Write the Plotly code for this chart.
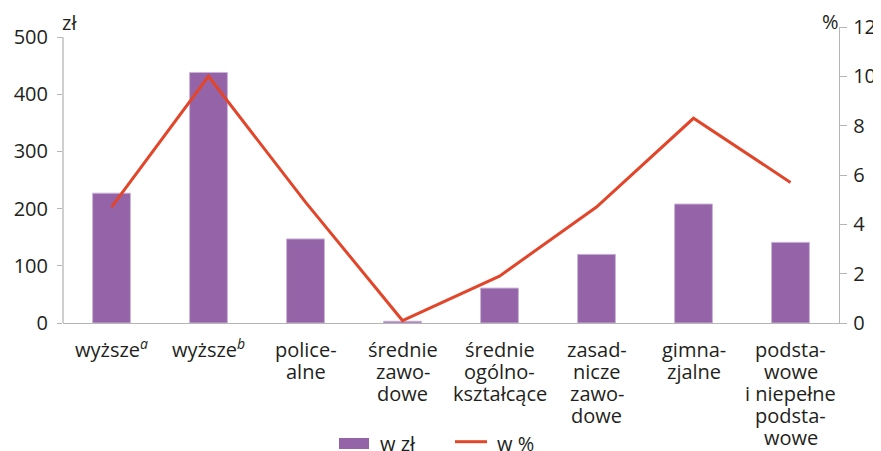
import plotly.graph_objects as go

categories = [
    "wyższe<sup><i>a</i></sup>",
    "wyższe<sup><i>b</i></sup>",
    "police-<br>alne",
    "średnie<br>zawo-<br>dowe",
    "średnie<br>ogólno-<br>kształcące",
    "zasad-<br>nicze<br>zawo-<br>dowe",
    "gimna-<br>zjalne",
    "podsta-<br>wowe<br>i niepełne<br>podsta-<br>wowe",
]
values_zl = [227, 438, 147, 3, 61, 120, 208, 141]
values_pct = [4.7, 10.0, 4.9, 0.1, 1.9, 4.7, 8.3, 5.7]
left_ticks = [0, 100, 200, 300, 400, 500]
right_ticks = [0, 2, 4, 6, 8, 10, 12]
series_names = ["w zł", "w %"]
unit_left = "zł"
unit_right = "%"

FONT = "Open Sans"
TXT = "#231f20"
AX = "#b5b5b5"
PURPLE = "#9463a8"
RED = "#e2462a"

OFF = 8  # page body margin
W, H = 881 - OFF, 451 - OFF
# plot area in page pixels: x 63..839, y 27..323
ML = 63 - OFF
MT = 27 - OFF
MR = W - (839 - OFF)
MB = H - (323 - OFF)
PW = W - ML - MR
PH = H - MT - MB


def baseline_shift(baseline_px):
    # yshift for an annotation anchored (bottom) at the plot bottom edge
    return -(baseline_px + 7 - 323)


idx = list(range(len(categories)))

fig = go.Figure()
fig.add_trace(go.Bar(
    x=idx, y=values_zl, name=series_names[0],
    marker=dict(color=PURPLE, line=dict(color="#c9b3d6", width=1)),
    yaxis="y", showlegend=False,
))
fig.add_trace(go.Scatter(
    x=idx, y=values_pct, name=series_names[1], mode="lines",
    line=dict(color=RED, width=3), yaxis="y2", showlegend=False,
))

annotations = []
# category labels, one annotation per line for tight line spacing
LS = 22
for i, lab in enumerate(categories):
    for j, line in enumerate(lab.split("<br>")):
        annotations.append(dict(
            x=i, xref="x", y=0, yref="paper", yanchor="bottom",
            yshift=baseline_shift(358 + j * LS),
            text=line, showarrow=False,
            font=dict(family=FONT, size=20, color=TXT),
            xanchor="center",
        ))

# units
annotations.append(dict(x=0, xref="paper", xanchor="left", xshift=-3,
                        y=1, yref="paper", yanchor="middle", yshift=4.5,
                        text=unit_left, showarrow=False,
                        font=dict(family=FONT, size=20, color=TXT)))
annotations.append(dict(x=1, xref="paper", xanchor="right", xshift=2,
                        y=1, yref="paper", yanchor="middle", yshift=6,
                        text=unit_right, showarrow=False,
                        font=dict(family=FONT, size=20, color=TXT)))


def px2x(px):
    return (px - 63) / PW


def py2y(py):
    return (323 - py) / PH


# manual legend
shapes = [
    dict(type="rect", xref="paper", yref="paper",
         x0=px2x(339), x1=px2x(369), y0=py2y(449), y1=py2y(438),
         fillcolor=PURPLE, line=dict(width=0)),
    dict(type="line", xref="paper", yref="paper",
         x0=px2x(455), x1=px2x(487), y0=py2y(441.7), y1=py2y(441.7),
         line=dict(color=RED, width=3)),
    # left axis line up to 500
    dict(type="line", xref="paper", yref="y",
         x0=0, x1=0, y0=0, y1=500, line=dict(color=AX, width=1.3)),
]
annotations.append(dict(x=px2x(378), xref="paper", xanchor="left",
                        y=0, yref="paper", yanchor="bottom",
                        yshift=baseline_shift(452),
                        text=series_names[0], showarrow=False,
                        font=dict(family=FONT, size=20, color=TXT)))
annotations.append(dict(x=px2x(495), xref="paper", xanchor="left",
                        y=0, yref="paper", yanchor="bottom",
                        yshift=baseline_shift(452),
                        text=series_names[1], showarrow=False,
                        font=dict(family=FONT, size=20, color=TXT)))

fig.update_layout(
    width=W, height=H,
    margin=dict(l=ML, r=MR, t=MT, b=MB, pad=0, autoexpand=False),
    paper_bgcolor="white", plot_bgcolor="white",
    font=dict(family=FONT, size=20, color=TXT),
    bargap=0.61,
    xaxis=dict(
        type="linear", range=[-0.5, len(categories) - 0.5],
        showticklabels=False, ticks="", showgrid=False, zeroline=False,
        showline=True, linecolor=AX, linewidth=1.3, automargin=False,
    ),
    yaxis=dict(
        range=[0, 500 * PH / 286], tickvals=left_ticks,
        ticks="outside", ticklen=5, tickcolor=AX, tickwidth=1,
        showgrid=False, zeroline=False, showline=False, automargin=False,
        tickfont=dict(family=FONT, size=20, color=TXT),
        ticklabelstandoff=5,
    ),
    yaxis2=dict(
        range=[0, 12], tickvals=right_ticks, overlaying="y", side="right",
        ticks="outside", ticklen=7, tickcolor=AX, tickwidth=1, automargin=False,
        showgrid=False, zeroline=False, showline=True, linecolor=AX, linewidth=1.3,
        tickfont=dict(family=FONT, size=20, color=TXT),
        ticklabelstandoff=2,
    ),
    annotations=annotations,
    shapes=shapes,
)

fig.write_html("out.html")
